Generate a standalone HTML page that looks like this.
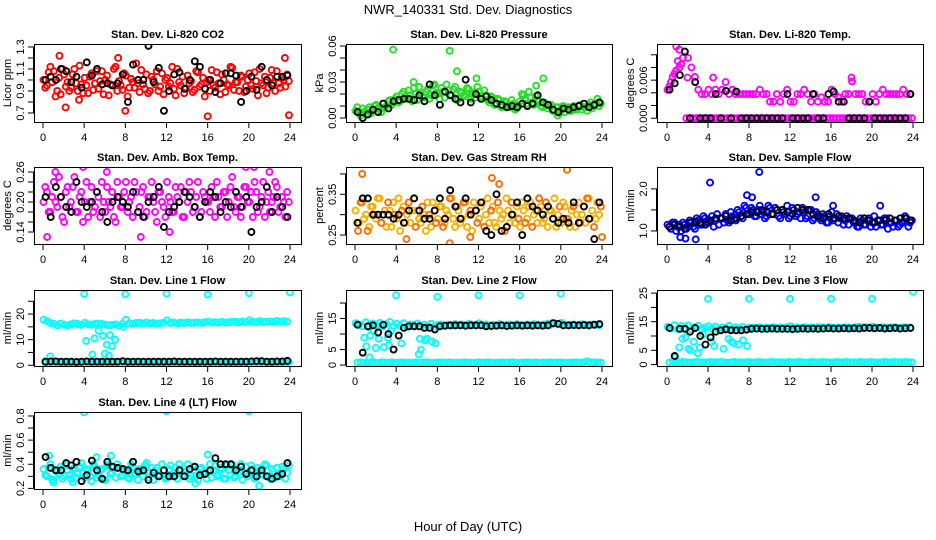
<!DOCTYPE html>
<html><head><meta charset="utf-8"><style>
body{margin:0;background:#fff}
svg{display:block;font-family:"Liberation Sans",sans-serif}
</style></head><body>
<svg id="chart" width="936" height="540" viewBox="0 0 936 540">
<text x="468" y="14" font-size="13" text-anchor="middle">NWR_140331  Std. Dev. Diagnostics</text>
<text x="468" y="531" font-size="13" text-anchor="middle">Hour of Day (UTC)</text>
</svg>
<script>
// ---------- data ----------
const hourTicks=[0,4,8,12,16,20,24];
const co2Main=[1.0,0.95,1.12,1.08,0.9,0.87,1.05,0.98,0.93,1.1,0.9,0.96,1.02,0.88,1.06,0.97,0.92,1.08,1.0,0.86,0.95,1.12,0.99,0.91,1.04,0.93,0.98,1.15,0.89,0.96,1.05,0.9,1.0,1.08,0.94,0.87,1.02,0.97,0.92,1.1,0.95,0.88,1.04,0.99,0.91,1.07,0.96,0.85,1.0,1.09,0.93,0.97,1.05,0.89,0.95,1.11,0.98,0.9,1.03,0.94,1.06,0.92,0.99,1.1,0.95,0.88,1.02,0.97,1.08,0.93,1.0,1.05];
const co2Alt=[0.93,1.07,0.98,0.85,1.02,1.1,0.94,0.9,1.05,0.97,1.13,0.88,0.95,1.03,0.91,1.08,0.99,0.87,1.04,0.96,1.1,0.9,0.95,1.06,0.85,1.01,0.93,0.97,1.09,0.92,0.88,1.03,0.96,0.9,1.06,1.0,0.94,1.12,0.86,0.98,1.03,0.92,0.97,0.89,1.08,0.94,1.02,0.98,0.9,0.95,1.07,0.87,1.0,0.96,1.12,0.91,0.98,1.04,0.89,1.0,0.95,1.07,0.86,0.97,1.03,0.93,1.09,0.9,0.97,1.02,0.94,0.99];
const co2Outliers=[[1.6,1.22],[2.2,0.75],[7.3,1.2],[8.0,0.72],[16,0.67],[23.9,0.68],[23.5,1.2],[3.5,0.82]];
const co2Black=[1.0,1.03,1.0,1.1,1.08,0.98,1.03,0.93,1.16,1.04,1.1,0.96,0.97,0.95,0.97,1.05,0.8,1.14,1.0,1.0,1.31,0.98,1.11,0.72,0.9,1.05,1.07,0.92,1.0,1.17,1.12,0.92,1.0,0.89,0.97,1.06,1.06,1.04,0.8,0.9,1.03,0.91,1.12,1.0,0.95,1.03,1.03,1.04];
const co2Ticks=[0.7,0.8,0.9,1.0,1.1,1.2,1.3];
const co2Labels=["0.7","","0.9","","1.1","","1.3"];

const presMain=[0.006,0.004,0.008,0.003,0.009,0.006,0.011,0.007,0.012,0.01,0.015,0.013,0.018,0.014,0.022,0.016,0.019,0.025,0.015,0.021,0.017,0.024,0.019,0.028,0.02,0.025,0.017,0.023,0.019,0.026,0.016,0.021,0.018,0.024,0.02,0.017,0.022,0.016,0.019,0.013,0.017,0.012,0.015,0.01,0.013,0.009,0.012,0.008,0.014,0.019,0.012,0.017,0.011,0.015,0.01,0.013,0.008,0.011,0.006,0.009,0.007,0.005,0.009,0.006,0.008,0.01,0.007,0.009,0.011,0.008,0.012,0.01];
const presAlt=[0.009,0.002,0.005,0.007,0.004,0.01,0.008,0.005,0.009,0.014,0.011,0.016,0.013,0.02,0.017,0.023,0.014,0.02,0.026,0.018,0.022,0.016,0.027,0.021,0.016,0.022,0.028,0.019,0.024,0.015,0.022,0.019,0.025,0.016,0.021,0.026,0.018,0.023,0.015,0.018,0.011,0.016,0.009,0.014,0.011,0.015,0.007,0.01,0.02,0.016,0.022,0.013,0.018,0.014,0.009,0.012,0.01,0.006,0.009,0.004,0.01,0.008,0.006,0.01,0.007,0.011,0.009,0.006,0.013,0.01,0.016,0.012];
const presOutliers=[[3.7,0.057],[9.2,0.056],[9.9,0.039],[11.8,0.033],[18.3,0.033],[5.7,0.03],[17.6,0.027],[19.7,0.002]];
const presBlack=[0.005,0.0,0.003,0.007,0.005,0.012,0.008,0.014,0.015,0.016,0.016,0.015,0.019,0.014,0.028,0.019,0.011,0.022,0.019,0.016,0.013,0.032,0.013,0.02,0.016,0.018,0.015,0.012,0.011,0.009,0.01,0.009,0.012,0.01,0.012,0.019,0.013,0.011,0.007,0.005,0.008,0.007,0.009,0.01,0.012,0.009,0.011,0.013];
const presTicks=[0,0.01,0.02,0.03,0.04,0.05,0.06];
const presLabels=["0.00","","","0.03","","","0.06"];

const tempMain=[0.0045,0.0057,0.007,0.009,0.0085,0.0105,0.0095,0.008,0.0065,0.0045,0.0038,0.0038,0.0045,0.0038,0.0045,0.0038,0.0045,0.0057,0.0038,0.0045,0.0038,0.0038,0.0038,0.0038,0.0038,0.0038,0.0038,0.0045,0.0038,0.0038,0.0026,0.0026,0.0038,0.0026,0.0038,0.0045,0.0026,0.0026,0.0038,0.0038,0.0045,0.0038,0.0026,0.0038,0.0026,0.0033,0.0026,0.0026,0.0045,0.0038,0.0033,0.0026,0.0038,0.0038,0.0058,0.0038,0.0038,0.0038,0.0026,0.0026,0.0038,0.0026,0.0038,0.0045,0.0038,0.0038,0.0038,0.0038,0.0038,0.0045,0.0038,0.0038];
const tempAlt=[0.005,0.0065,0.0075,0.008,0.0095,0.0,0,0,0,0,0,0,0,0,0,0,0,0,0,0,0,0,0,0,0,0,0,0,0,0,0,0,0,0,0,0,0,0,0,0,0,0,0,0,0,0,0,0,0,0,0,0,0,0,0,0,0,0,0,0,0,0,0,0,0,0,0,0,0,0,0,0];
const tempOutliers=[[0.9,0.0113],[1.2,0.0108],[18,0.0064],[4.5,0.0064],[2.0,0.0064]];
const tempBlack=[0.0045,0.0055,0.0068,0.0105,0.0,0.0057,0,0,0,0.0038,0,0.0043,0,0.0042,0,0,0,0,0,0,0,0,0,0.0038,0,0,0,0,0.0038,0,0,0.0038,0.0042,0.0026,0.0026,0,0,0,0,0.0026,0,0,0,0,0,0,0,0.0038];
const tempTicks=[0,0.002,0.004,0.006,0.008,0.010];
const tempLabels=["0.000","","","0.006","",""];

const ambMain=[0.2,0.22,0.18,0.24,0.19,0.21,0.16,0.23,0.2,0.25,0.18,0.22,0.2,0.17,0.23,0.19,0.21,0.24,0.18,0.2,0.22,0.16,0.21,0.19,0.24,0.2,0.17,0.22,0.19,0.23,0.18,0.21,0.2,0.16,0.22,0.19,0.24,0.2,0.18,0.21,0.23,0.17,0.2,0.22,0.19,0.24,0.18,0.21,0.2,0.23,0.17,0.21,0.19,0.22,0.2,0.25,0.18,0.21,0.19,0.23,0.2,0.17,0.22,0.19,0.24,0.2,0.18,0.21,0.23,0.19,0.2,0.22];
const ambAlt=[0.23,0.18,0.21,0.2,0.25,0.17,0.22,0.19,0.23,0.18,0.21,0.16,0.24,0.2,0.18,0.22,0.17,0.2,0.23,0.19,0.17,0.24,0.19,0.22,0.18,0.21,0.24,0.18,0.22,0.17,0.21,0.24,0.18,0.22,0.2,0.17,0.21,0.18,0.23,0.2,0.17,0.22,0.24,0.18,0.21,0.17,0.22,0.2,0.18,0.21,0.24,0.19,0.22,0.17,0.23,0.19,0.21,0.17,0.23,0.2,0.22,0.24,0.18,0.21,0.17,0.22,0.2,0.24,0.18,0.21,0.17,0.2];
const ambOutliers=[[0.4,0.13],[1.2,0.26],[3.9,0.27],[6.2,0.26],[9.5,0.13],[19.7,0.27],[20.5,0.27],[22,0.26],[12.3,0.14]];
const ambBlack=[0.21,0.17,0.23,0.21,0.19,0.18,0.24,0.2,0.19,0.2,0.22,0.18,0.16,0.2,0.21,0.2,0.19,0.22,0.18,0.17,0.2,0.21,0.23,0.15,0.18,0.19,0.2,0.22,0.21,0.19,0.17,0.2,0.22,0.21,0.18,0.2,0.19,0.22,0.19,0.21,0.14,0.19,0.2,0.23,0.18,0.21,0.19,0.17];
const ambTicks=[0.14,0.16,0.18,0.20,0.22,0.24,0.26];
const ambLabels=["0.14","","","0.20","","","0.26"];

const rhMain=[0.31,0.28,0.33,0.3,0.27,0.32,0.29,0.34,0.3,0.27,0.31,0.33,0.29,0.26,0.32,0.3,0.28,0.34,0.31,0.28,0.3,0.33,0.27,0.31,0.29,0.32,0.28,0.3,0.34,0.27,0.31,0.29,0.33,0.3,0.26,0.31,0.29,0.33,0.3,0.28,0.32,0.27,0.31,0.3,0.34,0.28,0.3,0.32,0.27,0.31,0.29,0.33,0.3,0.28,0.32,0.29,0.27,0.31,0.34,0.3,0.28,0.32,0.29,0.31,0.27,0.33,0.3,0.28,0.34,0.31,0.29,0.3];
const rhAlt=[0.28,0.33,0.29,0.26,0.32,0.3,0.34,0.28,0.31,0.33,0.27,0.3,0.34,0.31,0.28,0.33,0.31,0.27,0.29,0.32,0.26,0.3,0.33,0.28,0.32,0.27,0.31,0.34,0.29,0.32,0.28,0.33,0.27,0.31,0.33,0.28,0.32,0.27,0.34,0.31,0.28,0.33,0.29,0.26,0.31,0.33,0.28,0.29,0.33,0.28,0.32,0.27,0.31,0.34,0.28,0.33,0.31,0.29,0.27,0.32,0.33,0.29,0.27,0.32,0.3,0.28,0.32,0.34,0.29,0.27,0.33,0.32];
const rhOutliers=[[0.7,0.40],[5,0.24],[9.2,0.23],[13.3,0.39],[14,0.375],[20.6,0.41],[11.2,0.245],[24,0.245],[0.3,0.26]];
const rhBlack=[0.28,0.34,0.34,0.3,0.3,0.3,0.3,0.29,0.3,0.28,0.31,0.34,0.31,0.29,0.29,0.31,0.34,0.29,0.36,0.32,0.29,0.34,0.3,0.31,0.33,0.26,0.25,0.35,0.26,0.27,0.3,0.33,0.25,0.34,0.32,0.31,0.3,0.32,0.29,0.28,0.29,0.28,0.33,0.28,0.32,0.29,0.24,0.33];
const rhTicks=[0.25,0.30,0.35,0.40];
const rhLabels=["0.25","","0.35",""];

const flowMain=[1.15,1.05,1.2,1.1,1.0,1.15,1.1,1.2,1.05,1.25,1.15,1.3,1.2,1.35,1.25,1.15,1.3,1.4,1.2,1.35,1.25,1.45,1.3,1.55,1.4,1.5,1.35,1.6,1.45,1.35,1.55,1.4,1.5,1.3,1.45,1.6,1.35,1.5,1.4,1.3,1.45,1.35,1.5,1.3,1.4,1.25,1.35,1.2,1.45,1.3,1.2,1.35,1.25,1.15,1.3,1.2,1.1,1.25,1.15,1.3,1.2,1.1,1.25,1.15,1.3,1.2,1.1,1.25,1.15,1.2,1.3,1.2];
const flowAlt=[1.1,1.2,1.0,1.15,1.2,1.05,1.25,1.1,1.3,1.15,1.35,1.2,1.25,1.1,1.4,1.3,1.2,1.25,1.45,1.3,1.5,1.35,1.6,1.4,1.55,1.35,1.5,1.4,1.3,1.6,1.4,1.55,1.35,1.5,1.4,1.3,1.55,1.35,1.45,1.55,1.3,1.5,1.25,1.45,1.3,1.4,1.2,1.35,1.25,1.4,1.3,1.15,1.35,1.3,1.2,1.1,1.3,1.15,1.25,1.1,1.35,1.25,1.15,1.3,1.05,1.2,1.25,1.1,1.2,1.35,1.1,1.25];
const flowOutliers=[[4.2,2.15],[9.0,2.4],[7.8,1.85],[8.3,1.8],[1.8,0.82],[1.3,0.85],[2.8,0.8],[14.5,1.8],[16.2,1.6],[20.8,1.6]];
const flowBlack=[1.1,1.15,1.1,1.05,1.2,1.22,1.2,1.15,1.25,1.3,1.3,1.35,1.25,1.3,1.35,1.4,1.45,1.45,1.5,1.45,1.4,1.5,1.5,1.45,1.4,1.55,1.5,1.5,1.4,1.35,1.3,1.4,1.3,1.35,1.3,1.3,1.25,1.2,1.3,1.25,1.2,1.25,1.25,1.3,1.25,1.3,1.3,1.25];
const flowTicks=[1.0,1.5,2.0];
const flowLabels=["1.0","","2.0"];

const l1Main=[17.8,17.2,16.5,16.2,15.6,16.3,15.8,15.5,16.0,16.4,16.1,15.7,16.6,16.0,15.9,16.2,16.3,16.1,15.9,15.6,15.8,16.0,15.4,16.2,17.8,16.4,16.2,16.5,16.6,16.3,16.7,16.4,16.5,16.2,16.4,16.6,17.5,16.5,16.7,16.4,16.6,16.5,16.8,16.5,16.6,16.7,16.5,16.8,17.0,16.7,16.8,16.6,16.9,16.7,16.8,17.0,16.9,16.8,17.1,16.9,17.6,17.0,16.8,17.2,16.9,17.0,17.1,16.9,17.3,17.0,17.2,17.0];
const l1Alt=[1.0,1.2,1.1,1.3,1.2,1.1,1.2,1.3,1.2,1.1,1.2,1.2,1.3,1.1,1.2,1.2,1.1,1.3,1.2,1.2,1.1,1.2,1.3,1.2,1.2,1.1,1.2,1.3,1.2,1.2,1.1,1.2,1.2,1.3,1.2,1.1,1.3,1.2,1.2,1.1,1.2,1.2,1.3,1.2,1.1,1.2,1.2,1.3,1.2,1.2,1.1,1.2,1.3,1.2,1.2,1.1,1.2,1.2,1.3,1.2,1.4,1.3,1.2,1.2,1.3,1.2,1.2,1.1,1.2,1.3,1.2,1.2];
const l1Outliers=[[0.2,1.5],[0.7,3.5],[4.2,9.5],[4.8,4.2],[5.0,10.5],[5.4,13.5],[5.8,11.5],[6.0,4.5],[6.2,8],[6.4,3.8],[6.5,11.8],[6.7,7.5],[7.0,10],[4,27.8],[8,27.7],[12,28],[16,27.6],[20,28.2],[24,28.5],[7.8,15]];
const l1Black=[1.4,1.5,1.5,1.4,1.4,1.4,1.3,1.4,1.5,1.4,1.4,1.4,1.4,1.4,1.4,1.6,1.4,1.4,1.4,1.4,1.4,1.4,1.4,1.4,1.4,1.5,1.4,1.4,1.4,1.4,1.4,1.4,1.4,1.5,1.4,1.4,1.4,1.4,1.4,1.4,1.5,1.6,1.6,1.4,1.4,1.5,1.5,1.7];
const l1Ticks=[0,5,10,15,20,25];
const l1Labels=["0","","10","","20",""];

const l2Main=[13.5,13.0,12.5,13.8,12.2,13.4,12.8,13.6,12.4,13.2,13.9,12.6,13.3,12.7,13.5,12.3,13.1,12.8,13.4,12.5,13.0,12.7,13.3,12.4,12.9,13.1,12.7,13.0,12.8,13.2,12.9,13.1,12.8,13.3,12.9,13.0,13.5,12.9,13.1,12.8,13.0,12.9,13.2,12.8,13.0,13.1,12.9,13.2,13.0,12.8,13.1,12.9,13.2,13.0,12.9,13.1,13.3,13.0,13.5,13.1,13.6,13.0,12.9,13.1,13.0,12.9,13.2,13.0,12.8,13.1,13.0,12.9];
const l2Alt=[0.8,0.9,0.7,0.8,0.9,0.8,0.7,0.9,0.8,0.8,0.9,0.7,0.8,0.9,0.8,0.8,0.7,0.9,0.8,0.8,0.9,0.8,0.7,0.8,0.9,0.8,0.8,0.9,0.7,0.8,0.8,0.9,0.8,0.8,0.7,0.9,0.8,0.8,0.9,0.8,0.7,0.8,0.9,0.8,0.8,0.9,0.8,0.7,0.8,0.9,0.8,0.8,0.9,0.7,0.8,0.8,0.9,0.8,0.8,0.9,0.8,0.7,0.8,0.9,0.8,0.8,0.9,1.2,0.8,0.9,0.8,0.8];
const l2Outliers=[[0.9,8.8],[1.1,6],[1.4,2.5],[1.5,9.5],[1.8,11],[2,5.5],[2.3,8.5],[2.8,5.8],[3.2,8.8],[3.3,6.5],[3.5,11],[4.5,7],[6.2,3.5],[6.4,5],[6.3,8.5],[6.8,8],[7.0,8.5],[7.5,7.5],[7.8,7],[4,22.5],[8,22],[12,22.5],[16,22.5],[20,23],[24,25]];
const l2Black=[13,4,12.5,12.8,10.5,13,10,5,9.5,12,12.5,12.5,12.5,12,12,11.5,12.5,12.7,12.8,12.8,12.8,12.7,12.8,12.8,12.8,12.5,12.6,12.7,12.8,12.6,12.7,12.8,12.7,12.8,12.7,12.8,12.7,12.8,13.5,13.3,12.8,12.8,12.9,12.8,12.9,12.8,13,13.2];
const l2Ticks=[0,5,10,15,20];
const l2Labels=["0","5","","15",""];

const l3Main=[13.2,12.6,13.8,12.4,13.5,12.9,13.7,12.3,13.1,13.6,12.5,13.0,13.4,12.6,13.3,12.2,13.0,12.8,13.5,12.4,13.1,12.7,13.2,12.5,12.9,13.0,12.8,13.1,12.7,13.0,12.9,13.1,12.8,13.0,12.9,13.1,13.4,12.9,13.0,12.8,13.1,12.9,13.0,12.8,13.1,13.0,12.9,13.1,13.0,12.8,13.0,12.9,13.1,13.0,12.9,13.1,13.2,13.0,13.1,12.9,13.3,13.0,12.9,13.1,13.0,12.8,13.1,13.0,12.9,13.1,13.0,13.0];
const l3Alt=[0.7,0.9,0.8,0.8,0.9,0.8,0.7,0.8,0.9,0.8,0.8,0.7,0.9,0.8,0.8,0.9,0.8,0.7,0.8,0.9,0.8,0.8,0.7,0.9,0.8,0.8,0.9,0.8,0.7,0.8,0.9,0.8,0.8,0.8,0.7,0.9,0.8,0.8,0.9,0.8,0.7,0.8,0.9,0.8,0.8,0.9,0.8,0.7,0.8,0.9,0.8,0.8,0.9,0.7,0.8,0.8,0.9,0.8,0.8,0.9,0.8,0.7,0.8,0.9,0.8,0.8,0.9,0.8,0.8,0.9,0.8,0.8];
const l3Outliers=[[0.8,2.5],[1.2,6],[1.5,9],[1.8,9.5],[2.1,5.5],[2.3,5],[2.6,8],[3,4],[3.2,6],[3.5,10.5],[4.3,8],[4.6,6.5],[5.5,5.5],[6,9],[6.3,8],[6.5,7.5],[7,7],[7.4,8.5],[7.8,6.5],[4,23],[8,23],[12,23],[16,23],[20,23],[24,25.5]];
const l3Black=[12.8,3,12.5,12.5,11.5,12.8,10,7,9.5,11.5,12,12.3,12,12,12,12.2,12.5,12.6,12.5,12.5,12.6,12.5,12.5,12.5,12.4,12.5,12.6,12.5,12.6,12.5,12.6,12.7,12.6,12.6,12.7,12.6,12.7,12.6,12.8,12.8,12.7,12.8,12.6,12.7,12.8,12.6,12.7,12.8];
const l3Ticks=[0,5,10,15,20,25];
const l3Labels=["0","5","","15","","25"];

const l4Main=[0.36,0.3,0.4,0.27,0.34,0.38,0.3,0.35,0.28,0.37,0.32,0.41,0.29,0.35,0.26,0.38,0.31,0.36,0.27,0.4,0.33,0.29,0.37,0.31,0.35,0.28,0.38,0.32,0.36,0.3,0.41,0.33,0.27,0.37,0.31,0.35,0.29,0.39,0.33,0.28,0.36,0.31,0.4,0.3,0.35,0.27,0.37,0.32,0.34,0.29,0.39,0.31,0.36,0.28,0.35,0.4,0.3,0.34,0.27,0.38,0.32,0.36,0.29,0.35,0.31,0.39,0.28,0.34,0.37,0.3,0.36,0.33];
const l4Alt=[0.31,0.37,0.27,0.35,0.32,0.28,0.39,0.31,0.36,0.29,0.38,0.33,0.36,0.3,0.4,0.29,0.35,0.27,0.39,0.32,0.37,0.4,0.3,0.36,0.29,0.4,0.32,0.27,0.34,0.39,0.29,0.37,0.35,0.3,0.4,0.28,0.36,0.31,0.37,0.4,0.3,0.34,0.28,0.38,0.3,0.36,0.33,0.28,0.4,0.35,0.3,0.37,0.28,0.39,0.31,0.29,0.36,0.4,0.33,0.3,0.39,0.28,0.37,0.32,0.4,0.3,0.36,0.29,0.32,0.38,0.28,0.39];
const l4Outliers=[[0.6,0.47],[4,0.83],[12,0.84],[20,0.84],[1.0,0.25],[2.9,0.25],[6.6,0.47],[14.8,0.24],[16,0.48],[21,0.22],[5.2,0.46]];
const l4Black=[0.46,0.37,0.35,0.35,0.41,0.39,0.42,0.26,0.31,0.43,0.35,0.28,0.42,0.38,0.37,0.36,0.35,0.42,0.34,0.35,0.27,0.33,0.3,0.35,0.3,0.3,0.35,0.3,0.36,0.38,0.31,0.32,0.35,0.45,0.4,0.4,0.4,0.35,0.38,0.32,0.35,0.3,0.35,0.3,0.28,0.3,0.32,0.41];
const l4Ticks=[0.2,0.3,0.4,0.5,0.6,0.7,0.8];
const l4Labels=["0.2","","0.4","","0.6","","0.8"];

// ---------- layout ----------
const cols=[{l:34,r:301,h0:43,h24:290},{l:346,r:612,h0:355,h24:602},{l:657,r:923,h0:667,h24:913}];
const rows=[{t:44,b:122},{t:167,b:244},{t:290,b:366},{t:412,b:489}];
const panels=[
 {name:"co2",title:"Stan. Dev. Li-820 CO2",yt:"Licor ppm",c:0,r:0,lo:0.618,hi:1.327,col:"#ff0000",main:co2Main,alt:co2Alt,out:co2Outliers,blk:co2Black,ticks:co2Ticks,labels:co2Labels},
 {name:"pressure",title:"Stan. Dev. Li-820 Pressure",yt:"kPa",c:1,r:0,lo:-0.0033,hi:0.0617,col:"#22e022",main:presMain,alt:presAlt,out:presOutliers,blk:presBlack,ticks:presTicks,labels:presLabels},
 {name:"li820-temp",title:"Stan. Dev. Li-820 Temp.",yt:"degrees C",c:2,r:0,lo:-0.0006,hi:0.0117,col:"#ff00ff",main:tempMain,alt:tempAlt,out:tempOutliers,blk:tempBlack,ticks:tempTicks,labels:tempLabels},
 {name:"amb-box-temp",title:"Stan. Dev. Amb. Box Temp.",yt:"degrees C",c:0,r:1,lo:0.116,hi:0.27,col:"#ff00ff",main:ambMain,alt:ambAlt,out:ambOutliers,blk:ambBlack,ticks:ambTicks,labels:ambLabels},
 {name:"gas-stream-rh",title:"Stan. Dev. Gas Stream RH",yt:"percent",c:1,r:1,lo:0.228,hi:0.417,col:"#f5b000",col2:"#ff6a00",main:rhMain,alt:rhAlt,out:rhOutliers,blk:rhBlack,ticks:rhTicks,labels:rhLabels},
 {name:"sample-flow",title:"Stan. Dev. Sample Flow",yt:"ml/min",c:2,r:1,lo:0.69,hi:2.52,col:"#0000ff",main:flowMain,alt:flowAlt,out:flowOutliers,blk:flowBlack,ticks:flowTicks,labels:flowLabels},
 {name:"line1-flow",title:"Stan. Dev. Line 1 Flow",yt:"ml/min",c:0,r:2,lo:-0.3,hi:29.4,col:"#00ffff",main:l1Main,alt:l1Alt,out:l1Outliers,blk:l1Black,ticks:l1Ticks,labels:l1Labels},
 {name:"line2-flow",title:"Stan. Dev. Line 2 Flow",yt:"ml/min",c:1,r:2,lo:-0.3,hi:24.2,col:"#00ffff",main:l2Main,alt:l2Alt,out:l2Outliers,blk:l2Black,ticks:l2Ticks,labels:l2Labels},
 {name:"line3-flow",title:"Stan. Dev. Line 3 Flow",yt:"ml/min",c:2,r:2,lo:-0.5,hi:26.1,col:"#00ffff",main:l3Main,alt:l3Alt,out:l3Outliers,blk:l3Black,ticks:l3Ticks,labels:l3Labels},
 {name:"line4-flow",title:"Stan. Dev. Line 4 (LT) Flow",yt:"ml/min",c:0,r:3,lo:0.195,hi:0.833,col:"#00ffff",main:l4Main,alt:l4Alt,out:l4Outliers,blk:l4Black,ticks:l4Ticks,labels:l4Labels}
];
const NS="http://www.w3.org/2000/svg";
const svg=document.getElementById("chart");
function mk(tag,attrs,parent){const e=document.createElementNS(NS,tag);for(const k in attrs)e.setAttribute(k,attrs[k]);(parent||svg).appendChild(e);return e;}
panels.forEach(p=>{
  const C=cols[p.c],R=rows[p.r];
  const xs=h=>C.h0+(C.h24-C.h0)*h/24;
  const ys=v=>R.b-(v-p.lo)/(p.hi-p.lo)*(R.b-R.t);
  const g=mk("g",{});
  
  
  const t=mk("text",{x:(C.l+C.r)/2,y:R.t-6,"font-size":"11","font-weight":"bold","text-anchor":"middle"},g);
  t.textContent=p.title;
  
  
  const yt=mk("text",{x:0,y:0,"font-size":"11","text-anchor":"middle",transform:`translate(${C.l-23},${(R.t+R.b)/2}) rotate(-90)`},g);
  yt.textContent=p.yt;
  
  
  const ya=mk("g",{stroke:"#000","stroke-width":"1"},g);
  
  
  mk("line",{x1:C.l-0.5,x2:C.l-0.5,y1:ys(p.ticks[0]),y2:ys(p.ticks[p.ticks.length-1])},ya);
  p.ticks.forEach((v,i)=>{
    mk("line",{x1:C.l-6,x2:C.l,y1:ys(v),y2:ys(v)},ya);
    if(p.labels[i]){const tl=mk("text",{x:0,y:0,"font-size":"11","text-anchor":"middle",stroke:"none",transform:`translate(${C.l-10},${ys(v)}) rotate(-90)`},g);tl.textContent=p.labels[i];
      
      }
  });
  const xa=mk("g",{stroke:"#000","stroke-width":"1"},g);
  
  
  mk("line",{x1:xs(0),x2:xs(24),y1:R.b+0.5,y2:R.b+0.5},xa);
  hourTicks.forEach(h=>{
    mk("line",{x1:xs(h),x2:xs(h),y1:R.b,y2:R.b+6},xa);
    const tl=mk("text",{x:xs(h),y:R.b+19,"font-size":"11","text-anchor":"middle",stroke:"none"},g);
    tl.textContent=h;
    
    
  });
  const cid="clip-"+p.name;
  const cp=mk("clipPath",{id:cid},g);mk("rect",{x:C.l,y:R.t,width:C.r-C.l,height:R.b-R.t},cp);
  const pts=mk("g",{"clip-path":`url(#${cid})`,fill:"none","stroke-width":"1.9"},g);
  
  
  const dot=(h,v,col)=>{const c=mk("circle",{cx:xs(h),cy:ys(v),r:3,stroke:col},pts);
    
    };
  p.main.forEach((v,i)=>dot(i/3+0.05,v,p.col));
  p.alt.forEach((v,i)=>dot(i/3+0.22,v,p.col2&&i%2?p.col2:p.col));
  p.out.forEach(o=>dot(o[0],o[1],p.col2?p.col2:p.col));
  p.blk.forEach((v,i)=>dot(i*0.5+0.25,v,"#000"));
  const bx=mk("rect",{x:C.l+0.5,y:R.t+0.5,width:C.r-C.l,height:R.b-R.t,fill:"none",stroke:"#000","stroke-width":"1"},g);
  
  
});
</script>
</body></html>
